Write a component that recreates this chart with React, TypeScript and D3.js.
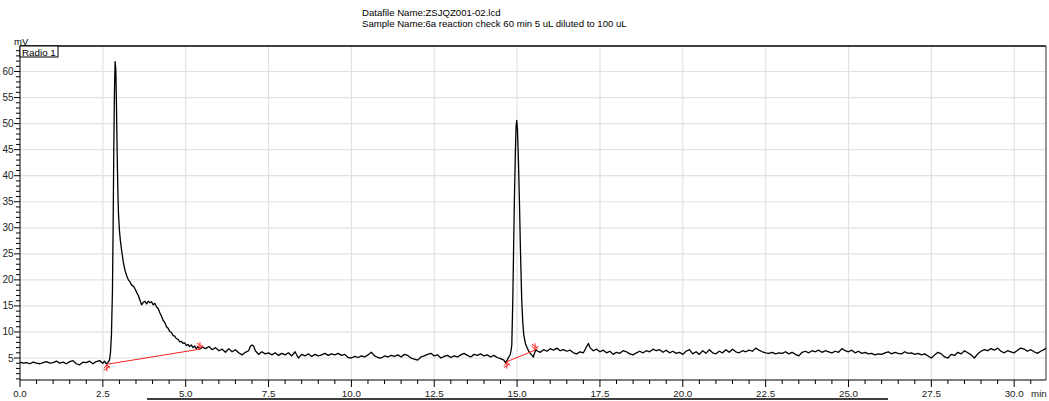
import React from "react";
import * as d3 from "d3";

const titleLines = [
  "Datafile Name:ZSJQZ001-02.lcd",
  "Sample Name:6a reaction check 60 min 5 uL diluted to 100 uL",
];
const channelLabel = "Radio 1";
const yUnit = "mV";
const xUnit = "min";

const xMajorTicks = [0, 2.5, 5, 7.5, 10, 12.5, 15, 17.5, 20, 22.5, 25, 27.5, 30];
const yMajorTicks = [5, 10, 15, 20, 25, 30, 35, 40, 45, 50, 55, 60];

// [time (min), signal (mV)]
const baselineStart: [number, number][] = [
  [0.0, 4.2], [0.1, 4.0], [0.2, 4.1], [0.3, 3.9], [0.4, 4.2], [0.5, 4.0], [0.6, 3.9], [0.7, 4.1],
  [0.8, 4.3], [0.9, 4.0], [1.0, 4.1], [1.1, 4.4], [1.2, 4.0], [1.3, 4.2], [1.4, 3.9], [1.5, 4.3],
  [1.6, 4.5], [1.7, 3.9], [1.8, 3.7], [1.9, 4.2], [2.0, 4.1], [2.1, 4.4], [2.2, 3.9], [2.3, 4.3],
  [2.4, 4.5], [2.5, 4.0], [2.55, 4.4], [2.6, 3.9],
];
const peak1: [number, number][] = [
  [2.65, 4.1], [2.7, 4.6], [2.73, 6.0], [2.76, 9.5], [2.79, 18], [2.81, 30], [2.83, 45], [2.85, 56],
  [2.87, 61.9], [2.89, 60.5], [2.91, 54], [2.93, 45], [2.95, 38], [2.97, 33], [3.0, 29.5], [3.03, 27.5],
];
const tail1: [number, number][] = [
  [3.07, 25.5], [3.12, 23.3], [3.17, 21.8], [3.22, 20.8], [3.27, 20.0], [3.32, 19.6], [3.37, 19.0],
  [3.42, 18.8], [3.47, 18.3], [3.52, 17.6], [3.57, 17.0], [3.62, 16.1], [3.67, 15.2], [3.72, 15.7],
  [3.77, 15.9], [3.82, 15.4], [3.87, 15.9], [3.92, 15.6], [3.97, 15.8], [4.02, 15.2], [4.07, 15.5],
  [4.12, 14.8], [4.17, 14.5], [4.22, 13.7], [4.27, 13.0], [4.32, 12.2], [4.37, 11.8], [4.42, 11.0],
  [4.47, 10.7], [4.52, 10.1], [4.57, 9.9], [4.62, 9.3], [4.67, 9.2], [4.72, 8.7], [4.77, 8.6],
  [4.82, 8.1], [4.87, 8.2], [4.92, 7.8], [4.97, 7.9], [5.02, 7.4], [5.07, 7.6], [5.12, 7.2],
  [5.17, 7.5], [5.22, 7.0], [5.27, 7.3], [5.32, 6.8], [5.37, 7.2], [5.42, 6.7], [5.47, 6.9],
];
const baselineMid: [number, number][] = [
  [5.5, 7.1], [5.6, 6.8], [5.7, 7.2], [5.8, 6.6], [5.9, 7.0], [6.0, 6.4], [6.1, 6.7], [6.2, 6.1],
  [6.3, 6.8], [6.4, 6.2], [6.5, 6.6], [6.6, 6.0], [6.7, 5.6], [6.8, 6.1], [6.9, 6.4], [6.95, 7.2],
  [7.0, 7.5], [7.05, 7.3], [7.1, 6.4], [7.2, 5.7], [7.3, 6.2], [7.4, 5.8], [7.5, 6.0], [7.6, 5.6],
  [7.7, 6.0], [7.8, 5.5], [7.9, 5.9], [8.0, 5.6], [8.1, 6.0], [8.2, 5.4], [8.3, 6.2], [8.4, 5.0],
  [8.5, 5.7], [8.6, 5.4], [8.7, 5.8], [8.8, 5.3], [8.9, 5.7], [9.0, 5.4], [9.1, 5.6], [9.2, 5.9],
  [9.3, 5.5], [9.4, 5.8], [9.5, 5.6], [9.6, 5.9], [9.7, 5.5], [9.8, 5.7], [9.9, 5.1], [10.0, 5.0],
  [10.1, 5.3], [10.2, 5.1], [10.3, 5.4], [10.4, 5.2], [10.5, 5.6], [10.6, 6.1], [10.7, 5.4],
  [10.8, 5.1], [10.9, 5.0], [11.0, 5.4], [11.1, 5.2], [11.2, 5.5], [11.3, 5.3], [11.4, 5.6],
  [11.5, 5.2], [11.6, 5.7], [11.7, 5.5], [11.8, 5.0], [11.9, 4.8], [12.0, 4.6], [12.1, 5.2],
  [12.2, 5.4], [12.3, 5.7], [12.4, 5.9], [12.5, 5.4], [12.6, 5.6], [12.7, 5.0], [12.8, 5.3],
  [12.9, 5.5], [13.0, 5.1], [13.1, 5.4], [13.2, 5.2], [13.3, 5.6], [13.4, 5.9], [13.5, 5.5],
  [13.6, 5.2], [13.7, 5.7], [13.8, 5.5], [13.9, 5.8], [14.0, 5.4], [14.1, 5.6], [14.2, 5.2],
  [14.3, 5.5], [14.4, 5.1], [14.5, 4.9], [14.6, 4.6], [14.65, 4.1], [14.7, 4.6],
];
const peak2: [number, number][] = [
  [14.75, 5.2], [14.79, 5.6], [14.82, 6.5], [14.84, 7.5], [14.87, 16], [14.9, 28], [14.92, 36],
  [14.95, 45], [14.97, 49.5], [14.99, 50.6], [15.01, 49], [15.04, 43], [15.07, 35.3], [15.1, 26],
  [15.14, 16.1], [15.17, 12], [15.2, 9.5], [15.25, 7.8], [15.3, 7.0], [15.35, 6.3], [15.4, 5.9],
  [15.45, 5.5], [15.49, 5.2], [15.53, 6.0], [15.57, 6.6],
];
const baselineEnd: [number, number][] = [
  [15.6, 6.4], [15.7, 6.1], [15.8, 6.6], [15.9, 6.3], [16.0, 6.8], [16.1, 6.5], [16.2, 6.9],
  [16.3, 6.4], [16.4, 6.6], [16.5, 6.3], [16.6, 6.5], [16.7, 6.0], [16.8, 5.8], [16.9, 6.2],
  [17.0, 6.0], [17.1, 7.2], [17.15, 7.8], [17.2, 7.0], [17.3, 6.4], [17.4, 6.7], [17.5, 6.2],
  [17.6, 6.5], [17.7, 6.0], [17.8, 6.3], [17.9, 5.7], [18.0, 6.1], [18.1, 5.9], [18.2, 6.4],
  [18.3, 6.2], [18.4, 5.8], [18.5, 5.6], [18.6, 6.0], [18.7, 6.3], [18.8, 6.0], [18.9, 6.4],
  [19.0, 6.2], [19.1, 6.7], [19.2, 6.4], [19.3, 6.6], [19.4, 6.1], [19.5, 6.5], [19.6, 6.0],
  [19.7, 6.3], [19.8, 5.9], [19.9, 6.1], [20.0, 5.7], [20.1, 6.3], [20.2, 6.6], [20.3, 5.8],
  [20.4, 6.2], [20.5, 5.7], [20.6, 6.4], [20.7, 5.9], [20.8, 6.6], [20.9, 6.0], [21.0, 5.8],
  [21.1, 6.3], [21.2, 6.0], [21.3, 6.6], [21.4, 6.1], [21.5, 6.7], [21.6, 6.2], [21.7, 6.0],
  [21.8, 6.4], [21.9, 6.2], [22.0, 6.5], [22.1, 6.3], [22.2, 6.9], [22.3, 6.5], [22.4, 6.2],
  [22.5, 6.0], [22.6, 5.9], [22.7, 6.1], [22.8, 5.8], [22.9, 6.0], [23.0, 5.9], [23.1, 6.2],
  [23.2, 5.8], [23.3, 6.1], [23.4, 5.7], [23.5, 5.4], [23.6, 6.1], [23.7, 6.3], [23.8, 6.0],
  [23.9, 6.4], [24.0, 6.2], [24.1, 6.5], [24.2, 6.1], [24.3, 6.4], [24.4, 6.2], [24.5, 6.0],
  [24.6, 6.3], [24.7, 6.1], [24.8, 6.8], [24.9, 6.4], [25.0, 6.2], [25.1, 6.5], [25.2, 6.0],
  [25.3, 6.3], [25.4, 5.9], [25.5, 6.1], [25.6, 5.8], [25.7, 5.9], [25.8, 5.6], [25.9, 5.8],
  [26.0, 5.7], [26.1, 6.0], [26.2, 6.2], [26.3, 5.8], [26.4, 6.1], [26.5, 5.9], [26.6, 5.8],
  [26.7, 6.2], [26.8, 5.9], [26.9, 6.0], [27.0, 5.7], [27.1, 5.9], [27.2, 5.6], [27.3, 5.8],
  [27.4, 5.4], [27.5, 5.0], [27.6, 5.6], [27.7, 6.1], [27.8, 5.8], [27.9, 5.2], [28.0, 5.0],
  [28.1, 5.7], [28.2, 5.5], [28.3, 6.1], [28.4, 5.8], [28.5, 6.4], [28.6, 6.0], [28.7, 5.6],
  [28.8, 5.0], [28.9, 5.8], [29.0, 6.3], [29.1, 6.6], [29.2, 6.4], [29.3, 6.8], [29.4, 6.5],
  [29.5, 6.9], [29.6, 6.3], [29.7, 6.0], [29.8, 6.4], [29.9, 6.2], [30.0, 6.0], [30.1, 6.5],
  [30.2, 6.9], [30.3, 6.7], [30.4, 6.3], [30.5, 6.6], [30.6, 6.2], [30.7, 5.9], [30.8, 6.3],
  [30.9, 6.6], [30.96, 6.9],
];

const peakBaselines: [number, number][][] = [
  [[2.62, 3.8], [5.43, 6.7]],
  [[14.69, 4.3], [15.54, 6.5]],
];

const W = 1049;
const H = 401;
const M = { left: 20, right: 1046, top: 46, bottom: 380 };
const FONT = "'Liberation Sans', Arial, sans-serif";

export default function App() {
  const x = d3.scaleLinear().domain([0, 30.96]).range([M.left, M.right]);
  const y = d3.scaleLinear().domain([0.78, 64.9]).range([M.bottom, M.top]);

  const trace = [...baselineStart, ...peak1, ...tail1, ...baselineMid, ...peak2, ...baselineEnd];
  const line = d3
    .line<[number, number]>()
    .x((d) => x(d[0]))
    .y((d) => y(d[1]));

  const xMinor = d3.range(0, 31, 0.5).filter((t) => x(t) <= M.right);
  const yMinor = d3.range(1, 65, 1).filter((v) => y(v) >= M.top);

  return (
    <svg
      width={W}
      height={H}
      style={{ position: "absolute", left: 0, top: 0, background: "#fff" }}
      fontFamily={FONT}
    >
      <rect x={0} y={0} width={W} height={H} fill="#fff" />
      {/* title */}
      {titleLines.map((t, i) => (
        <text key={i} x={362} y={15.5 + i * 11} fontSize={9.6} fill="#000">
          {t}
        </text>
      ))}
      {/* grid */}
      {xMajorTicks
        .filter((t) => t > 0)
        .map((t) => (
          <line key={"gx" + t} x1={x(t)} x2={x(t)} y1={M.top} y2={M.bottom} stroke="#e2e2e2" strokeWidth={1.2} />
        ))}
      {yMajorTicks.map((v) => (
        <line key={"gy" + v} x1={M.left} x2={M.right} y1={y(v)} y2={y(v)} stroke="#e2e2e2" strokeWidth={1.2} />
      ))}
      {/* frame */}
      <line x1={M.left} x2={M.right} y1={M.top} y2={M.top} stroke="#000" strokeWidth={1.5} />
      <line x1={M.right} x2={M.right} y1={M.top} y2={M.bottom} stroke="#333" strokeWidth={1} />
      <line x1={M.left} x2={M.left} y1={M.top} y2={M.bottom} stroke="#000" strokeWidth={1} />
      <line x1={M.left} x2={M.right} y1={M.bottom} y2={M.bottom} stroke="#000" strokeWidth={1} />
      {/* y ticks */}
      {yMinor.map((v) => {
        const major = v % 5 === 0;
        return (
          <line key={"yt" + v} x1={M.left - (major ? 6 : 4)} x2={M.left} y1={y(v)} y2={y(v)} stroke="#000" strokeWidth={1} />
        );
      })}
      {yMajorTicks.map((v) => (
        <text key={"yl" + v} x={13.5} y={y(v) + 3.5} fontSize={10} textAnchor="end" fill="#222">
          {v}
        </text>
      ))}
      <text x={14} y={44.5} fontSize={9.5} fill="#000">
        {yUnit}
      </text>
      {/* x ticks */}
      {xMinor.map((t) => {
        const major = Math.abs(t / 2.5 - Math.round(t / 2.5)) < 1e-6;
        return (
          <line key={"xt" + t} x1={x(t)} x2={x(t)} y1={M.bottom} y2={M.bottom + (major ? 7 : 4)} stroke="#000" strokeWidth={1} />
        );
      })}
      {xMajorTicks.map((t) => (
        <text key={"xl" + t} x={x(t)} y={396.5} fontSize={9.8} textAnchor="middle" fill="#222">
          {t.toFixed(1)}
        </text>
      ))}
      <text x={1031} y={396.5} fontSize={9.8} fill="#222">
        {xUnit}
      </text>
      {/* channel box */}
      <rect x={M.left} y={M.top} width={38} height={11} fill="#fff" stroke="#000" strokeWidth={1} />
      <text x={22} y={55.5} fontSize={9.8} fill="#000">
        {channelLabel}
      </text>
      {/* trace */}
      <path d={line(trace) ?? ""} fill="none" stroke="#000" strokeWidth={1.3} strokeLinejoin="round" />
      {/* integration baselines */}
      {peakBaselines.map((seg, i) => {
        const [a, b] = seg;
        const ax = x(a[0]);
        const ay = y(a[1]);
        const bx = x(b[0]);
        const by = y(b[1]);
        return (
          <g key={"pb" + i} stroke="#ff2020" strokeWidth={1} fill="none">
            <line x1={ax} y1={ay} x2={bx} y2={by} />
            <path d={`M${ax},${ay} L${ax},${ay + 7} M${ax - 3},${ay + 4} L${ax},${ay + 0.5} L${ax + 3},${ay + 4} M${ax - 3},${ay + 6} L${ax + 3},${ay + 2}`} />
            <path d={`M${bx},${by} L${bx},${by - 7} M${bx - 3},${by - 4} L${bx},${by - 0.5} L${bx + 3},${by - 4} M${bx - 3},${by - 6} L${bx + 3},${by - 2}`} />
          </g>
        );
      })}
      {/* stray bottom rule */}
      <line x1={147} x2={888} y1={399} y2={399} stroke="#000" strokeWidth={1.5} />
    </svg>
  );
}
